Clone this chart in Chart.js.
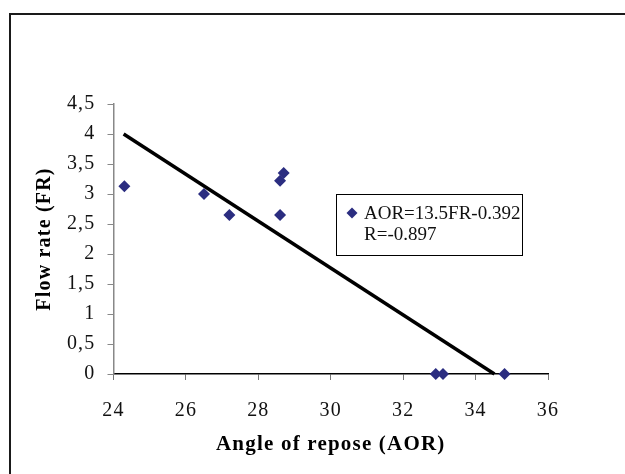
<!DOCTYPE html>
<html>
<head>
<meta charset="utf-8">
<script src="https://cdn.jsdelivr.net/npm/chart.js@4.4.1/dist/chart.umd.min.js"></script>
<style>
  html, body { margin: 0; padding: 0; background: #fff; }
  #wrap { width: 625px; height: 474px; position: relative; }
</style>
</head>
<body>
<div id="wrap"><canvas id="c" width="625" height="474"></canvas></div>
<script>
// ---- data ----
const aorValues = [24.3, 26.5, 27.2, 28.6, 28.6, 28.7, 32.9, 33.1, 34.8];
const frValues  = [3.13, 3.0, 2.65, 2.65, 3.22, 3.35, 0, 0, 0];
const trendX = [24.28, 34.52];
const trendY = [4.0, 0];
const yTickLabels = ['0', '0,5', '1', '1,5', '2', '2,5', '3', '3,5', '4', '4,5'];
const xTickValues = [24, 26, 28, 30, 32, 34, 36];
const legendLines = ['AOR=13.5FR-0.392', 'R=-0.897'];
const xTitle = 'Angle of repose (AOR)';
const yTitle = 'Flow rate (FR)';

const serif = "'Liberation Serif', 'Times New Roman', serif";
const markerColor = '#2B2D80';

const scatterData = aorValues.map((x, i) => ({ x: x, y: frValues[i] }));
const trendData = trendX.map((x, i) => ({ x: x, y: trendY[i] }));

const spacingPlugin = {
  id: 'spacing',
  beforeDraw(chart) {
    chart.ctx.letterSpacing = '1.2px';
  },
  afterDraw(chart) {
    const ctx = chart.ctx;
    ctx.save();
    // outer frame (left and top edges visible)
    ctx.strokeStyle = '#1a1a1a';
    ctx.lineWidth = 2;
    ctx.beginPath();
    ctx.moveTo(10, 480);
    ctx.lineTo(10, 14);
    ctx.lineTo(630, 14);
    ctx.stroke();

    // legend box
    ctx.letterSpacing = '0px';
    ctx.lineWidth = 1;
    ctx.strokeStyle = '#000';
    ctx.strokeRect(336.5, 194.5, 186, 61);
    ctx.fillStyle = markerColor;
    const mx = 352, my = 213, r = 5.5;
    ctx.beginPath();
    ctx.moveTo(mx, my - r);
    ctx.lineTo(mx + r, my);
    ctx.lineTo(mx, my + r);
    ctx.lineTo(mx - r, my);
    ctx.closePath();
    ctx.fill();
    ctx.fillStyle = '#111';
    ctx.font = "19px " + serif;
    ctx.textBaseline = 'alphabetic';
    ctx.textAlign = 'left';
    ctx.fillText(legendLines[0], 364, 219);
    ctx.fillText(legendLines[1], 364, 240);
    ctx.restore();
  }
};

new Chart(document.getElementById('c'), {
  type: 'scatter',
  data: {
    datasets: [
      {
        label: 'Trend',
        data: trendData,
        showLine: true,
        borderColor: '#000',
        borderWidth: 3.5,
        pointRadius: 0,
        fill: false,
        clip: false,
        order: 2
      },
      {
        label: 'AOR',
        data: scatterData,
        pointStyle: 'rectRot',
        pointRadius: 6,
        pointHoverRadius: 6,
        backgroundColor: markerColor,
        borderColor: markerColor,
        borderWidth: 0,
        clip: false,
        order: 1
      }
    ]
  },
  options: {
    responsive: false,
    animation: false,
    events: [],
    layout: { padding: { top: 104, right: 77, bottom: 0, left: 0 } },
    plugins: {
      legend: { display: false },
      tooltip: { enabled: false }
    },
    scales: {
      x: {
        type: 'linear',
        min: 24,
        max: 36,
        afterFit(scale) { scale.height = 100; },
        afterBuildTicks(scale) { scale.ticks = xTickValues.map(v => ({ value: v })); },
        ticks: {
          color: '#111',
          font: { family: serif, size: 20 },
          padding: 19,
          maxRotation: 0,
          callback: (v) => String(v)
        },
        grid: {
          drawOnChartArea: false,
          drawTicks: true,
          tickLength: 6,
          color: '#777'
        },
        border: { display: true, color: '#000', width: 1.5 },
        title: {
          display: true,
          text: xTitle,
          color: '#000',
          font: { family: serif, size: 21, weight: 'bold' },
          padding: { top: 0, bottom: 17 }
        }
      },
      y: {
        type: 'linear',
        min: 0,
        max: 4.5,
        afterFit(scale) { scale.width = 113.5; },
        ticks: {
          stepSize: 0.5,
          color: '#111',
          font: { family: serif, size: 20 },
          padding: 12,
          callback: (v) => yTickLabels[Math.round(v * 2)]
        },
        grid: {
          drawOnChartArea: false,
          drawTicks: true,
          tickLength: 6,
          color: '#888'
        },
        border: { display: true, color: '#888', width: 1.5 },
        title: {
          display: true,
          text: yTitle,
          color: '#000',
          font: { family: serif, size: 20, weight: 'bold' },
          padding: { top: 33, bottom: 0 }
        }
      }
    }
  },
  plugins: [spacingPlugin]
});
</script>
</body>
</html>
